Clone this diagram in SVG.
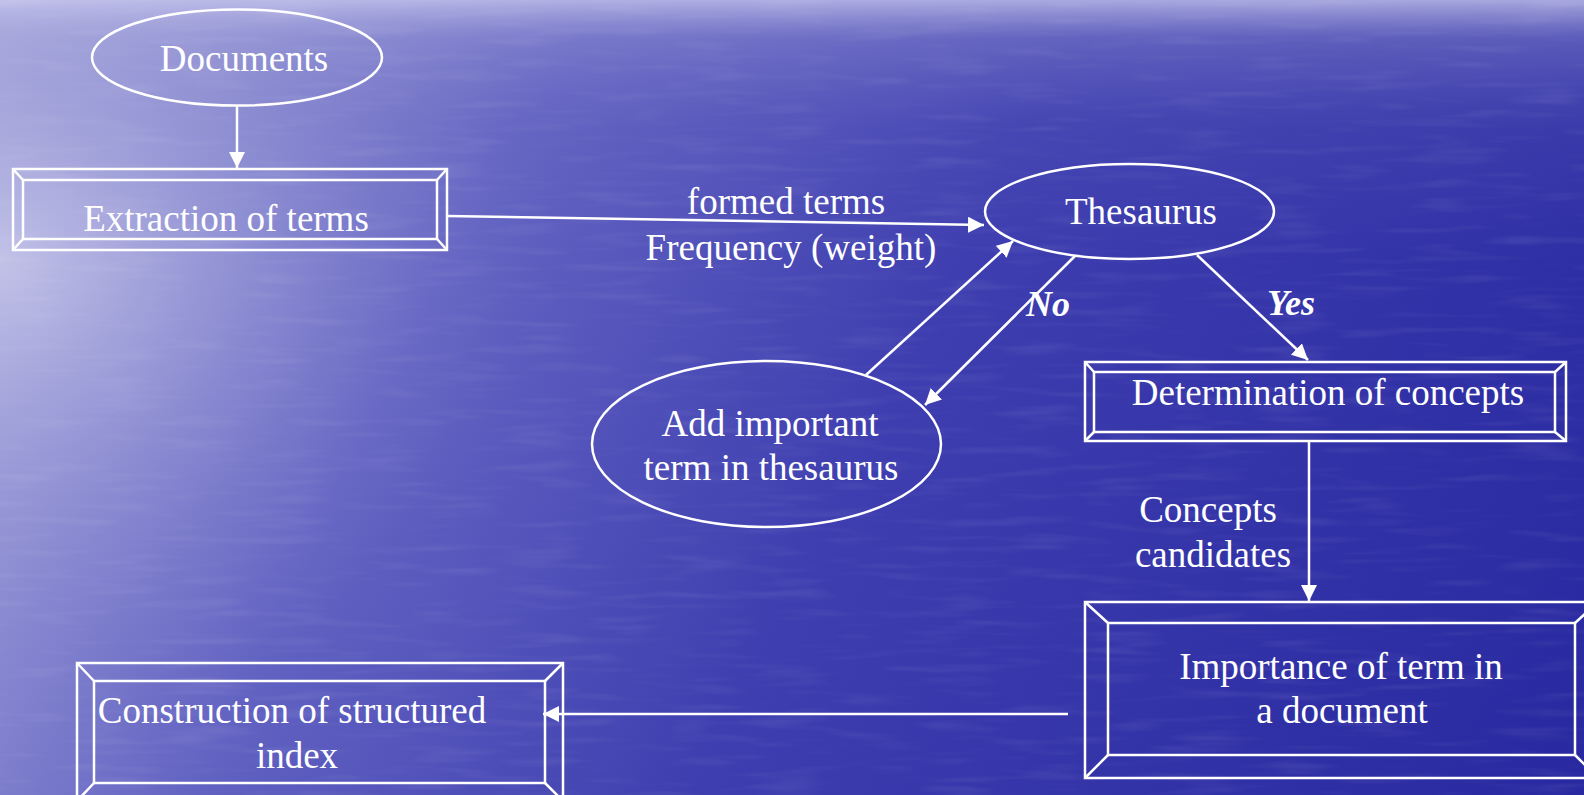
<svg xmlns="http://www.w3.org/2000/svg" width="1584" height="795" viewBox="0 0 1584 795">
  <defs>
    <linearGradient id="bgMain" x1="0" y1="0" x2="1584" y2="795" gradientUnits="userSpaceOnUse">
      <stop offset="0" stop-color="#b4b4e2"/>
      <stop offset="0.3" stop-color="#6262c2"/>
      <stop offset="0.55" stop-color="#3e3eb0"/>
      <stop offset="1" stop-color="#2828a0"/>
    </linearGradient>
    <radialGradient id="glow" cx="0" cy="260" r="560" gradientUnits="userSpaceOnUse" gradientTransform="translate(0 260) scale(1 0.8) translate(0 -260)">
      <stop offset="0" stop-color="#dcdcf2" stop-opacity="0.55"/>
      <stop offset="0.5" stop-color="#b0b0e0" stop-opacity="0.22"/>
      <stop offset="1" stop-color="#8080cc" stop-opacity="0"/>
    </radialGradient>
    <linearGradient id="topBand" x1="0" y1="0" x2="0" y2="260" gradientUnits="userSpaceOnUse">
      <stop offset="0" stop-color="#c4c4ec" stop-opacity="0.8"/>
      <stop offset="0.15" stop-color="#9898d6" stop-opacity="0.4"/>
      <stop offset="0.5" stop-color="#7070c4" stop-opacity="0.15"/>
      <stop offset="1" stop-color="#7070c4" stop-opacity="0"/>
    </linearGradient>
    <filter id="ripples" x="0" y="0" width="1584" height="795" filterUnits="userSpaceOnUse">
      <feTurbulence type="fractalNoise" baseFrequency="0.012 0.11" numOctaves="2" seed="4" result="n"/>
      <feColorMatrix in="n" type="matrix" values="0 0 0 0 1  0 0 0 0 1  0 0 0 0 1  2.4 0 0 0 -1.2"/>
    </filter>
    <marker id="arrow" viewBox="0 0 16 16" markerWidth="16" markerHeight="16" refX="16" refY="8" orient="auto" markerUnits="userSpaceOnUse">
      <path d="M0,0 L16,8 L0,16 z" fill="#ffffff"/>
    </marker>
    <style>
      .shape { fill: none; stroke: #ffffff; stroke-width: 2.5; }
      .edge { fill: none; stroke: #ffffff; stroke-width: 2.5; marker-end: url(#arrow); }
      .label { font-family: "Liberation Serif", "Times New Roman", serif; font-size: 37px; fill: #ffffff; text-anchor: middle; }
      .bi { font-family: "Liberation Serif", "Times New Roman", serif; font-size: 36px; fill: #ffffff; font-weight: bold; font-style: italic; text-anchor: middle; }
    </style>
  </defs>

  <!-- background -->
  <rect x="0" y="0" width="1584" height="795" fill="url(#bgMain)"/>
  <rect x="0" y="0" width="1584" height="795" fill="url(#glow)"/>
  <rect x="0" y="0" width="1584" height="260" fill="url(#topBand)"/>
  <rect x="0" y="0" width="1584" height="795" filter="url(#ripples)" opacity="0.07"/>

  <!-- connectors -->
  <g id="connectors">
    <line class="edge" x1="237" y1="106" x2="237" y2="168"/>
    <line class="edge" x1="447" y1="216" x2="984" y2="225"/>
    <line class="edge" x1="866" y1="375" x2="1013" y2="241"/>
    <line class="edge" x1="1075" y1="256" x2="925" y2="405"/>
    <line class="edge" x1="1197" y1="255" x2="1308" y2="360"/>
    <line class="edge" x1="1309" y1="441" x2="1309" y2="601"/>
    <line class="edge" x1="1068" y1="714" x2="543" y2="714"/>
    <text class="label" x="786" y="214">formed terms</text>
    <text class="label" x="791" y="260">Frequency (weight)</text>
    <text class="bi" x="1048" y="316">No</text>
    <text class="bi" x="1291" y="315">Yes</text>
    <text class="label" x="1208" y="522">Concepts</text>
    <text class="label" x="1213" y="567">candidates</text>
  </g>

  <!-- Documents -->
  <g id="documents">
    <ellipse class="shape" cx="237" cy="57.5" rx="145" ry="48"/>
    <text class="label" x="244" y="71">Documents</text>
  </g>

  <!-- Extraction of terms -->
  <g id="extraction">
    <rect class="shape" x="13" y="169" width="434" height="81"/>
    <rect class="shape" x="23" y="180" width="414" height="59"/>
    <path class="shape" d="M13,169 L23,180 M447,169 L437,180 M13,250 L23,239 M447,250 L437,239"/>
    <text class="label" x="226" y="231">Extraction of terms</text>
  </g>

  <!-- Thesaurus -->
  <g id="thesaurus">
    <ellipse class="shape" cx="1129.5" cy="211.5" rx="144.5" ry="47.5"/>
    <text class="label" x="1141" y="224">Thesaurus</text>
  </g>

  <!-- Add important term -->
  <g id="add-term">
    <ellipse class="shape" cx="766.5" cy="444" rx="174.5" ry="83"/>
    <text class="label" x="770" y="436">Add important</text>
    <text class="label" x="771" y="480">term in thesaurus</text>
  </g>

  <!-- Determination of concepts -->
  <g id="determination">
    <rect class="shape" x="1085" y="362" width="481" height="79"/>
    <rect class="shape" x="1094" y="372" width="461" height="60"/>
    <path class="shape" d="M1085,362 L1094,372 M1566,362 L1555,372 M1085,441 L1094,432 M1566,441 L1555,432"/>
    <text class="label" x="1328" y="405">Determination of concepts</text>
  </g>

  <!-- Importance of term -->
  <g id="importance">
    <rect class="shape" x="1085" y="602" width="513" height="176"/>
    <rect class="shape" x="1108" y="623" width="467" height="132"/>
    <path class="shape" d="M1085,602 L1108,623 M1598,602 L1575,623 M1085,778 L1108,755 M1598,778 L1575,755"/>
    <text class="label" x="1341" y="679">Importance of term in</text>
    <text class="label" x="1342" y="723">a document</text>
  </g>

  <!-- Construction of structured index -->
  <g id="construction">
    <rect class="shape" x="77" y="663" width="486" height="138"/>
    <rect class="shape" x="94" y="681" width="451" height="102"/>
    <path class="shape" d="M77,663 L94,681 M563,663 L545,681 M77,801 L94,783 M563,801 L545,783"/>
    <text class="label" x="292" y="723">Construction of structured</text>
    <text class="label" x="297" y="768">index</text>
  </g>
</svg>
